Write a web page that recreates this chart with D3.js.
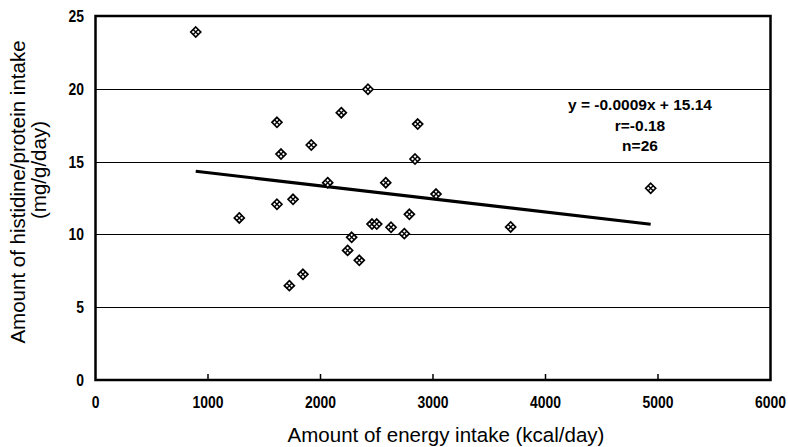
<!DOCTYPE html>
<html>
<head>
<meta charset="utf-8">
<style>
  body { margin: 0; background: #fff; }
  svg text { fill: #000; }
  .tick-lab { font-family: "Liberation Sans", Arial, sans-serif; font-weight: bold; font-size: 17px; }
  .title { font-family: "Liberation Sans", Arial, sans-serif; font-size: 20.5px; }
  .note { font-family: "Liberation Sans", Arial, sans-serif; font-weight: bold; font-size: 15.5px; }
</style>
</head>
<body>
<div id="chart"></div>
<script src="https://cdnjs.cloudflare.com/ajax/libs/d3/7.8.5/d3.min.js"></script>
<script>
// energy intake (kcal/day)
var energy = [891, 2422, 2185, 1613, 2864, 1918, 1649, 2840, 2064, 2580, 3027, 1756, 1613,
              1278, 2790, 2458, 2500, 2627, 2745, 2277, 2241, 2345, 1844, 1723, 3690, 4935];
// histidine / protein intake (mg/g/day)
var histidine = [23.9, 19.97, 18.36, 17.7, 17.58, 16.14, 15.52, 15.18, 13.55, 13.55, 12.77, 12.41, 12.07,
                 11.13, 11.38, 10.71, 10.71, 10.49, 10.05, 9.8, 8.9, 8.22, 7.26, 6.48, 10.51, 13.17];
var xTicks = [0, 1000, 2000, 3000, 4000, 5000, 6000];
var yTicks = [0, 5, 10, 15, 20, 25];
var slope = -0.0009, intercept = 15.14;
var notes = ["y = -0.0009x + 15.14", "r=-0.18", "n=26"];

var W = 788, H = 447;
var mLeft = 95.5, mRight = 770.5, mTop = 16, mBottom = 380;

var svg = d3.select('#chart').append('svg').attr('width', W).attr('height', H);

var x = d3.scaleLinear().domain([0, 6000]).range([mLeft, mRight]);
var y = d3.scaleLinear().domain([0, 25]).range([mBottom, mTop]);

// grid lines
svg.append('g').selectAll('line')
  .data(yTicks.filter(function(d){ return d > 0 && d < 25; }))
  .enter().append('line')
  .attr('x1', mLeft).attr('x2', mRight)
  .attr('y1', function(d){ return Math.round(y(d)) + 0.5; })
  .attr('y2', function(d){ return Math.round(y(d)) + 0.5; })
  .attr('stroke', '#000').attr('stroke-width', 1.2);

// x ticks inside the frame
svg.append('g').selectAll('line')
  .data(xTicks.filter(function(d){ return d > 0 && d < 6000; }))
  .enter().append('line')
  .attr('x1', function(d){ return x(d); }).attr('x2', function(d){ return x(d); })
  .attr('y1', mBottom).attr('y2', mBottom - 6)
  .attr('stroke', '#000').attr('stroke-width', 1.5);

// frame
svg.append('rect')
  .attr('x', mLeft).attr('y', mTop)
  .attr('width', mRight - mLeft).attr('height', mBottom - mTop)
  .attr('fill', 'none').attr('stroke', '#000').attr('stroke-width', 2.5);

// tick labels (narrow bold digits)
svg.append('g').selectAll('text')
  .data(xTicks).enter().append('text')
  .attr('class', 'tick-lab')
  .attr('transform', function(d){ return 'translate(' + x(d) + ',408) scale(0.82,1)'; })
  .attr('text-anchor', 'middle')
  .text(function(d){ return d; });

svg.append('g').selectAll('text')
  .data(yTicks).enter().append('text')
  .attr('class', 'tick-lab')
  .attr('transform', function(d){ return 'translate(84,' + (y(d) + 6) + ') scale(0.82,1)'; })
  .attr('text-anchor', 'end')
  .text(function(d){ return d; });

// regression line
var xmin = d3.min(energy), xmax = d3.max(energy);
svg.append('line')
  .attr('x1', x(xmin)).attr('y1', y(slope * xmin + intercept))
  .attr('x2', x(xmax)).attr('y2', y(slope * xmax + intercept))
  .attr('stroke', '#000').attr('stroke-width', 3.2);

// points: checkered diamonds
var pts = svg.append('g').selectAll('g')
  .data(energy.map(function(e, i){ return { x: e, y: histidine[i] }; }))
  .enter().append('g')
  .attr('transform', function(d){ return 'translate(' + x(d.x) + ',' + y(d.y) + ')'; });
pts.append('path')
  .attr('d', 'M0,-5L5,0L0,5L-5,0Z')
  .attr('fill', '#fff').attr('stroke', '#000').attr('stroke-width', 1.7);
pts.append('path')
  .attr('d', 'M-2.5,-2.5L2.5,2.5M-2.5,2.5L2.5,-2.5')
  .attr('stroke', '#000').attr('stroke-width', 1.4);

// annotation
svg.append('g').selectAll('text')
  .data(notes).enter().append('text')
  .attr('class', 'note')
  .attr('x', 640)
  .attr('y', function(d, i){ return 110 + i * 20.5; })
  .attr('text-anchor', 'middle')
  .text(function(d){ return d; });

// axis titles
svg.append('text')
  .attr('class', 'title')
  .attr('x', 446).attr('y', 442)
  .attr('text-anchor', 'middle')
  .text('Amount of energy intake (kcal/day)');

svg.append('text')
  .attr('class', 'title')
  .attr('transform', 'translate(25,192) rotate(-90)')
  .attr('text-anchor', 'middle')
  .text('Amount of histidine/protein intake');
svg.append('text')
  .attr('class', 'title')
  .attr('transform', 'translate(46,170) rotate(-90)')
  .attr('text-anchor', 'middle')
  .text('(mg/g/day)');
</script>
</body>
</html>
